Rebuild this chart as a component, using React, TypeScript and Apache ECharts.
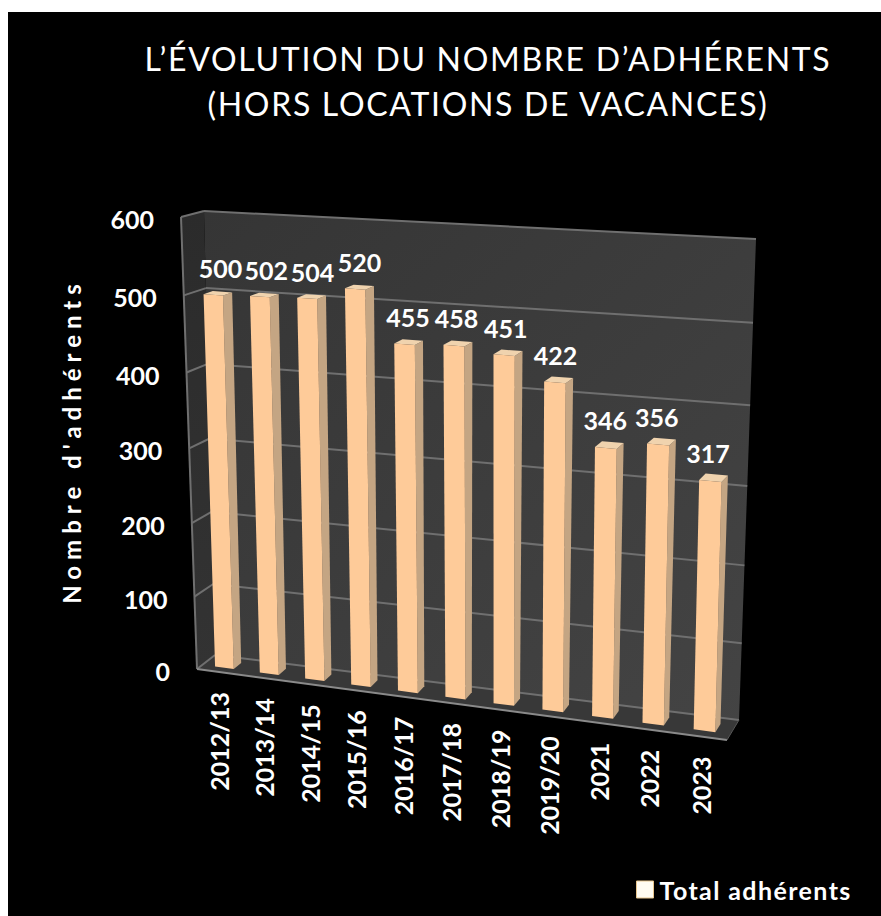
import React, { useEffect, useRef } from "react";
import * as echarts from "echarts";

const titleText = "L’ÉVOLUTION DU NOMBRE D’ADHÉRENTS\n(HORS LOCATIONS DE VACANCES)";
const yName = "Nombre d'adhérents";
const seriesName = "Total adhérents";
const categories = ["2012/13","2013/14","2014/15","2015/16","2016/17","2017/18","2018/19","2019/20","2021","2022","2023"];
const values = [500,502,504,520,455,458,451,422,346,356,317];
const yTicks = [0,100,200,300,400,500,600];

type Pt = [number, number];
const FONT = "Lato, Carlito, sans-serif";

function homography(p0: Pt, p1: Pt, p2: Pt, p3: Pt) {
  const dx1 = p1[0]-p2[0], dx2 = p3[0]-p2[0], sx = p0[0]-p1[0]+p2[0]-p3[0];
  const dy1 = p1[1]-p2[1], dy2 = p3[1]-p2[1], sy = p0[1]-p1[1]+p2[1]-p3[1];
  const den = dx1*dy2-dx2*dy1;
  const g = (sx*dy2-dx2*sy)/den, h = (dx1*sy-sx*dy1)/den;
  const a = p1[0]-p0[0]+g*p1[0], b = p3[0]-p0[0]+h*p3[0], c = p0[0];
  const d = p1[1]-p0[1]+g*p1[1], e = p3[1]-p0[1]+h*p3[1], f = p0[1];
  return (u: number, v: number): Pt => {
    const w = g*u+h*v+1;
    return [(a*u+b*v+c)/w, (d*u+e*v+f)/w];
  };
}
// corners: bottom-left, bottom-right, top-right, top-left
const backPlane = homography([215,655],[739,720],[756,239],[204,211]);
const frontPlane = homography([197,669],[727,740],[738,251],[181,217]);
const proj = (u: number, v: number, z: number): Pt => {
  const b = backPlane(u,v), f = frontPlane(u,v);
  return [b[0]+(f[0]-b[0])*z, b[1]+(f[1]-b[1])*z];
};
const uv = (pt: number[], cs: any) => [(pt[0]-cs.x)/cs.width, (cs.y+cs.height-pt[1])/cs.height];

const Z_BACK = 0.29, Z_FRONT = 0.71, BAR_RATIO = 0.42;
const LINE = "#6f6f6f";

function poly(points: Pt[], fill: any, stroke?: string, lineWidth = 0) {
  return { type: "polygon", shape: { points }, style: { fill, stroke: stroke || undefined, lineWidth } };
}
function seg(a: Pt, b: Pt, stroke = LINE, lineWidth = 2) {
  return { type: "line", shape: { x1:a[0], y1:a[1], x2:b[0], y2:b[1] }, style: { stroke, lineWidth } };
}
function label(text: string, p: Pt, fontSize: number, align: string, verticalAlign: string, rotation = 0) {
  return { type: "text", x: p[0], y: p[1], rotation,
    style: { text, x: 0, y: 0, fill: "#ffffff", fontFamily: FONT, fontWeight: 700, fontSize, align, verticalAlign } };
}

function renderWalls(params: any, api: any) {
  const cs = params.coordSys;
  const children: any[] = [];
  children.push(poly([proj(0,0,0),proj(1,0,0),proj(1,1,0),proj(0,1,0)],
    new echarts.graphic.LinearGradient(0,0,1,1,[{offset:0,color:"#353535"},{offset:1,color:"#444444"}])));
  children.push(poly([proj(0,0,1),proj(0,0,0),proj(0,1,0),proj(0,1,1)],
    new echarts.graphic.LinearGradient(0,0,0,1,[{offset:0,color:"#2b2b2b"},{offset:1,color:"#333333"}])));
  children.push(poly([proj(0,0,1),proj(1,0,1),proj(1,0,0),proj(0,0,0)], "#383838"));
  yTicks.forEach((t) => {
    const v = uv(api.coord([0,t]), cs)[1];
    children.push(seg(proj(0,v,1),proj(0,v,0)));
    children.push(seg(proj(0,v,0),proj(1,v,0)));
  });
  children.push(seg(proj(0,0,1),proj(0,1,1)));
  children.push(seg(proj(0,0,1),proj(1,0,1),"#8a8a8a",2));
  children.push(seg(proj(1,0,1),proj(1,0,0),"#555555",1));
  return { type: "group", children };
}

function renderBar(params: any, api: any) {
  const cs = params.coordSys;
  const i = api.value(0), val = api.value(1);
  const c = uv(api.coord([i,val]), cs);
  const half = api.size([1,0])[0]/cs.width*BAR_RATIO/2;
  const uL = c[0]-half, uR = c[0]+half, v = c[1];
  const children: any[] = [
    poly([proj(uR,0,Z_FRONT),proj(uR,0,Z_BACK),proj(uR,v,Z_BACK),proj(uR,v,Z_FRONT)],"#c4a583"),
    poly([proj(uL,v,Z_FRONT),proj(uR,v,Z_FRONT),proj(uR,v,Z_BACK),proj(uL,v,Z_BACK)],"#f0d3ae"),
    poly([proj(uL,0,Z_FRONT),proj(uR,0,Z_FRONT),proj(uR,v,Z_FRONT),proj(uL,v,Z_FRONT)],"#fecb99"),
  ];
  const top = proj(c[0],v,0.5);
  children.push(label(String(val),[top[0]+3-9*c[0],top[1]-25],25,"center","middle"));
  return { type: "group", children };
}

function renderXLabel(params: any, api: any) {
  const cs = params.coordSys;
  const i = api.value(0);
  const u = uv(api.coord([i,0]), cs)[0];
  const p = proj(u,0,1);
  return label(categories[i],[p[0],p[1]+20],25,"right","middle",Math.PI/2);
}
function renderYLabel(params: any, api: any) {
  const cs = params.coordSys;
  const t = api.value(1);
  const v = uv(api.coord([0,t]), cs)[1];
  const p = proj(0,v,1);
  return label(String(t),[p[0]-27,p[1]+2],25,"right","middle");
}

export default function App() {
  const ref = useRef<HTMLDivElement>(null);
  useEffect(() => {
    document.body.style.overflow = "hidden";
    const chart = echarts.init(ref.current!, null, { renderer: "svg" });
    chart.setOption({
      animation: false,
      backgroundColor: "#ffffff",
      title: {
        text: titleText, left: 483, top: 31, textAlign: "center",
        textStyle: { color: "#ffffff", fontFamily: FONT, fontWeight: 400, fontSize: 32, lineHeight: 45 },
      },
      legend: {
        left: 636, top: 877, padding: 0, itemWidth: 17, itemHeight: 17, itemGap: 8, selectedMode: false,
        data: [{ name: seriesName, icon: "rect", itemStyle: { color: "#fffcf2", borderColor: "#e8c68e", borderWidth: 1 } }],
        textStyle: { color: "#ffffff", fontFamily: FONT, fontWeight: 700, fontSize: 25, padding: [0,0,0,1] },
      },
      graphic: [
        { type: "rect", z: -10, silent: true, shape: { x: 8, y: 12, width: 873, height: 904 }, style: { fill: "#000000" } },
        { type: "text", z: 10, silent: true, x: 71, y: 441, rotation: Math.PI/2,
          style: { text: yName, fill: "#ffffff", fontFamily: FONT, fontWeight: 700, fontSize: 24, align: "center", verticalAlign: "middle" } },
      ],
      grid: { left: 100, top: 100, width: 660, height: 600 },
      xAxis: { type: "category", data: categories, show: false },
      yAxis: { type: "value", min: 0, max: 600, interval: 100, show: false },
      series: [
        { type: "custom", coordinateSystem: "cartesian2d", silent: true, renderItem: renderWalls, data: [[0,0]], z: 1 },
        { type: "custom", name: seriesName, coordinateSystem: "cartesian2d", silent: true, renderItem: renderBar,
          itemStyle: { color: "#fffcf2" }, encode: { x: 0, y: 1 }, data: values.map((v,i)=>[i,v]), z: 2 },
        { type: "custom", coordinateSystem: "cartesian2d", silent: true, renderItem: renderXLabel,
          data: categories.map((_,i)=>[i,0]), z: 3 },
        { type: "custom", coordinateSystem: "cartesian2d", silent: true, renderItem: renderYLabel,
          data: yTicks.map((t)=>[0,t]), z: 3 },
      ],
    });
    ref.current!.querySelectorAll("text").forEach((el) => {
      const s = el.textContent || "";
      if (s.includes("ÉVOLUTION") || s.includes("HORS")) el.setAttribute("letter-spacing", "1.7");
      if (s === yName) el.setAttribute("letter-spacing", "6");
      if (s === seriesName) el.setAttribute("letter-spacing", "1.4");
    });
    return () => chart.dispose();
  }, []);
  return <div ref={ref} style={{ position: "absolute", left: 0, top: 0, width: 881, height: 916 }} />;
}
